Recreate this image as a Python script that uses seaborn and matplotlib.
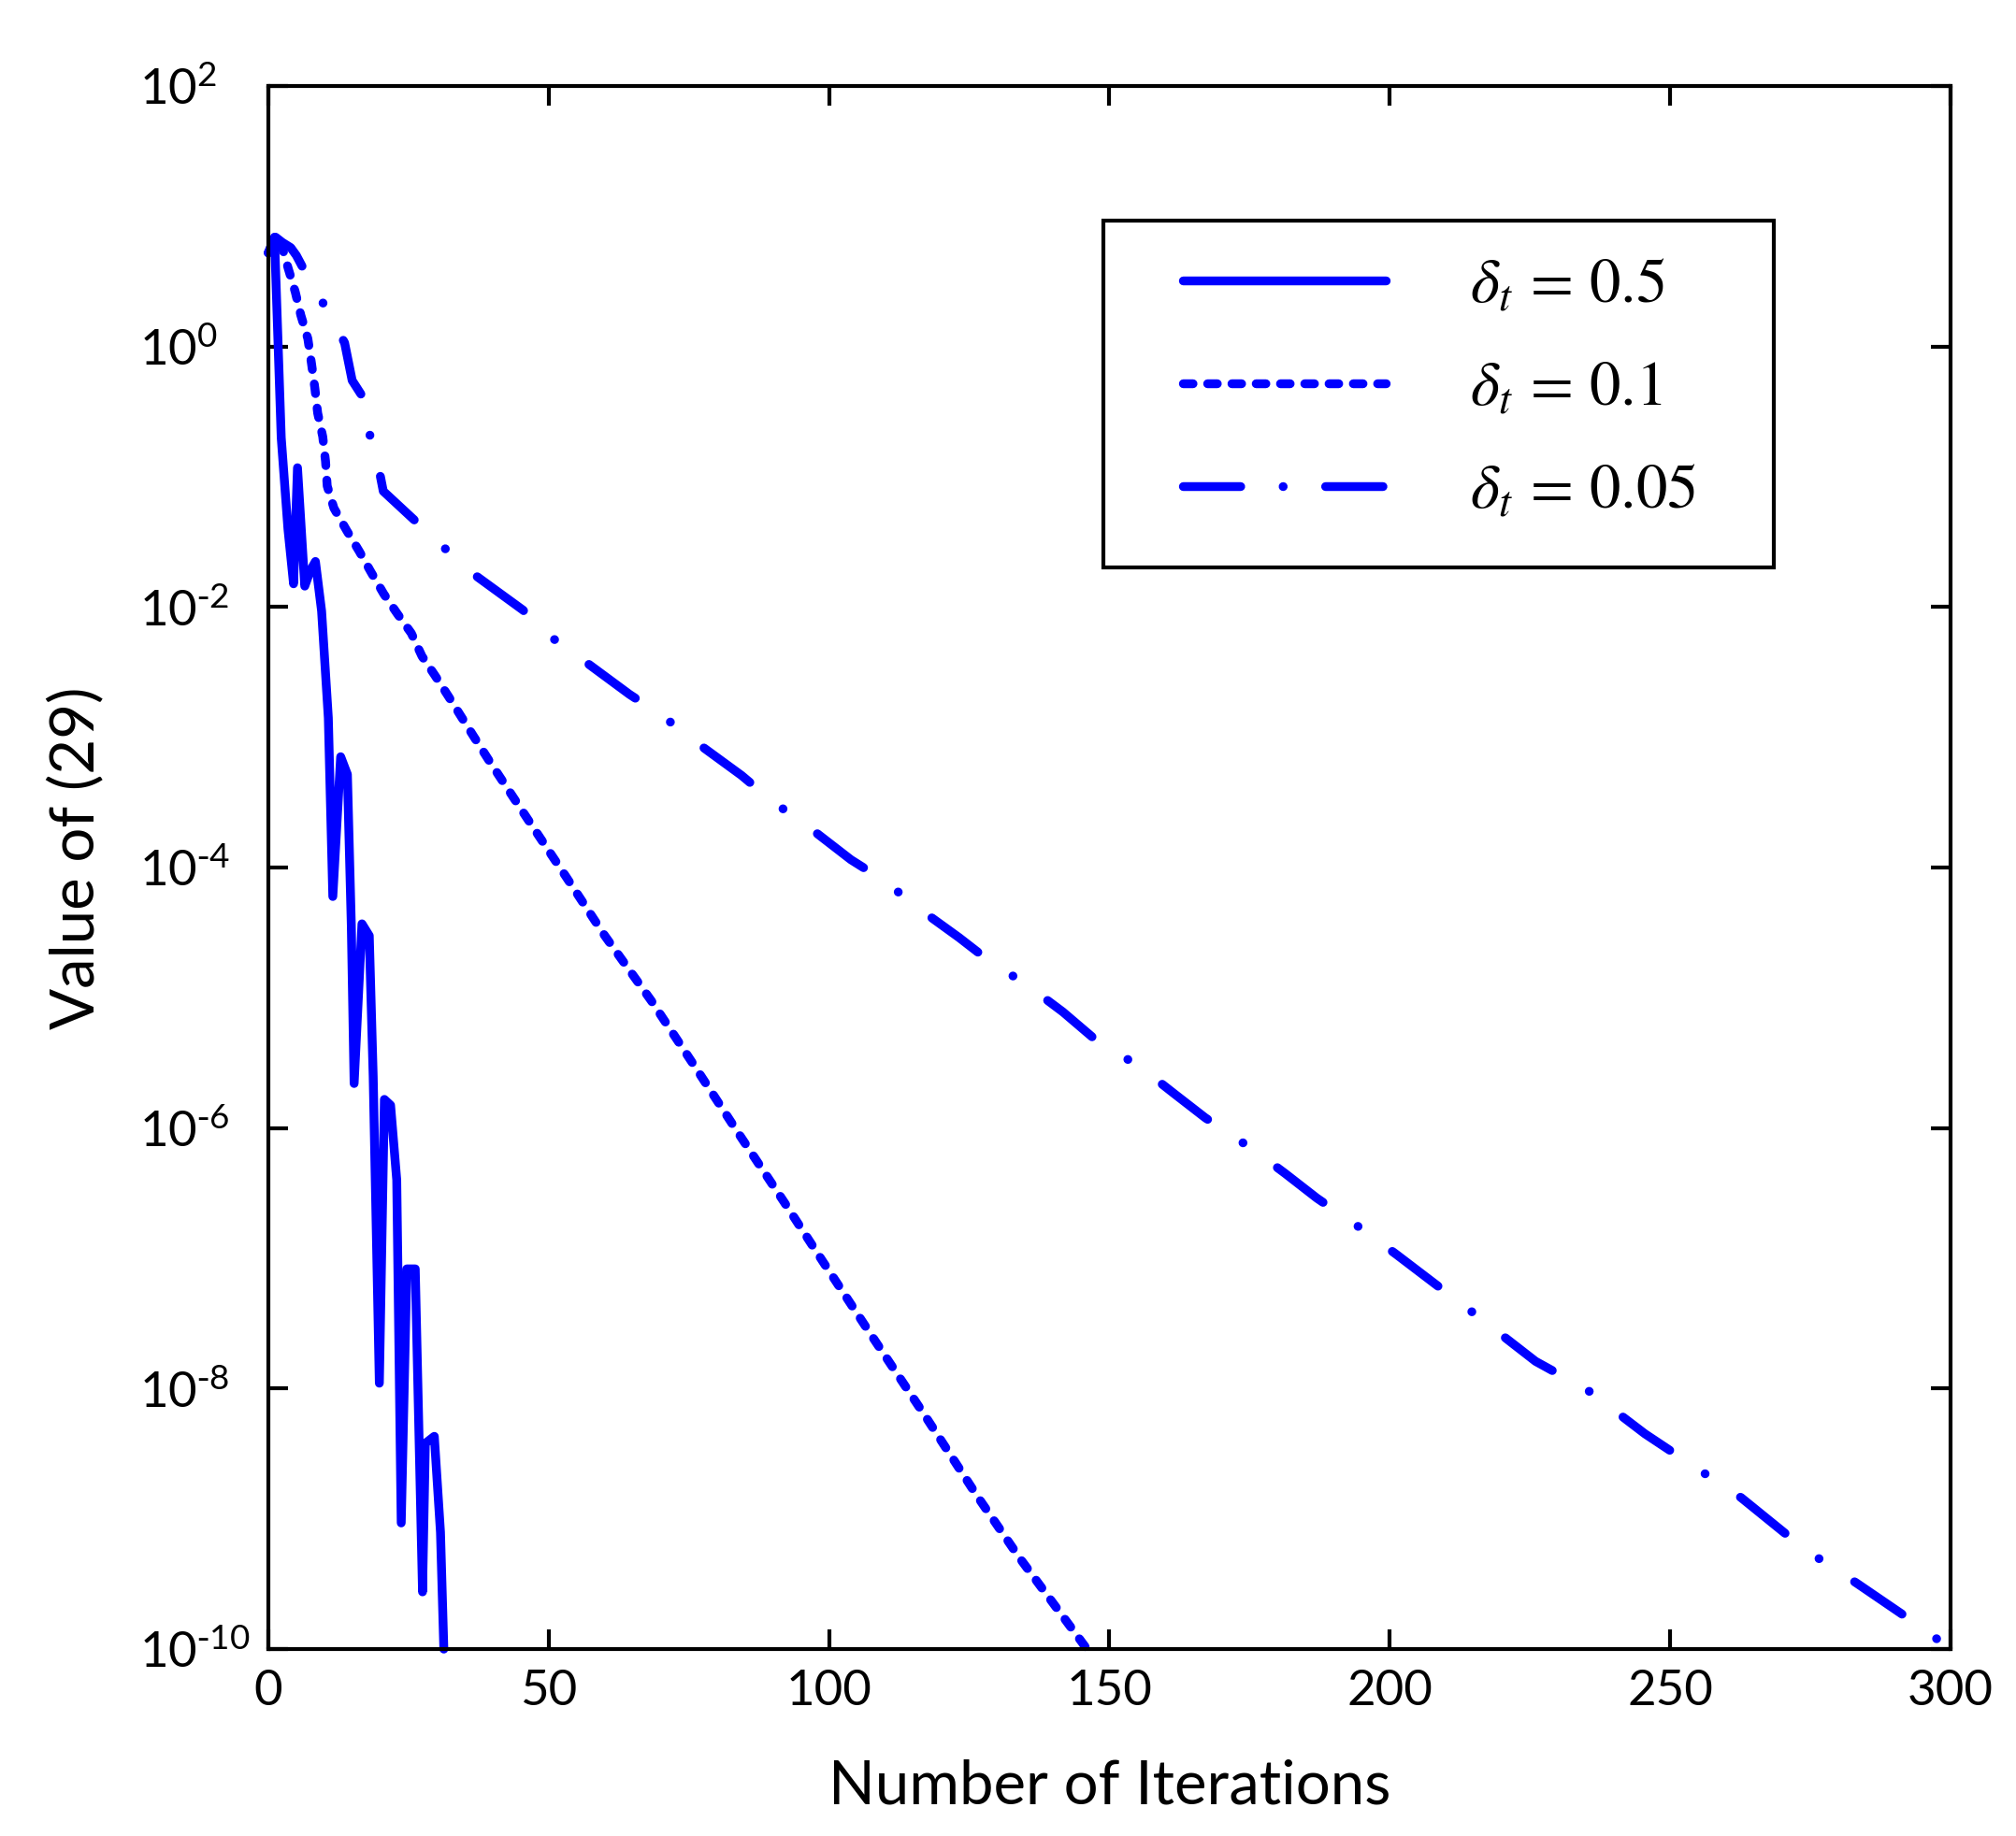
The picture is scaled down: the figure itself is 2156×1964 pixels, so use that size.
import numpy as np
import matplotlib
matplotlib.use("Agg")
import matplotlib.pyplot as plt
import seaborn as sns
from matplotlib.patches import Rectangle
from matplotlib.ticker import FixedLocator, NullLocator, FuncFormatter

# ---------------- data ----------------
iters_a = [0, 1.1, 2.3, 3.5, 4.5, 5.2, 6.5, 7.5, 8.4, 9.5, 10.7, 11.5, 12.9, 14.1, 14.8,
           15.3, 16.7, 18.0, 18.7, 19.8, 20.7, 21.8, 22.9, 23.7, 24.7, 26.2, 27.5, 28.0,
           29.6, 30.7, 31.3]
value_a = [5.25, 6.92, 0.200, 0.0398, 0.0151, 0.1175, 0.0145, 0.0191, 0.0224, 9.33e-3,
           1.41e-3, 6.0e-5, 7.1e-4, 5.2e-4, 3.6e-5, 2.2e-6, 3.7e-5, 3.0e-5, 2.5e-6, 1.1e-8,
           1.66e-6, 1.5e-6, 4.0e-7, 9.3e-10, 8.3e-8, 8.3e-8, 2.75e-10, 3.8e-9, 4.3e-9,
           7.9e-10, 1.0e-10]

iters_b = [0, 1.3, 2.5, 3.55, 4.8, 5.8, 7.05, 7.7, 8.3, 8.8, 9.7, 10.2, 10.5, 11.7, 13.95,
           16.2, 18.3, 20.6, 23.0, 25.5, 27.4, 29.8, 32.2, 36.6, 39.4, 46.3, 53.1, 60.0,
           68.3, 76.0, 84.0, 92.0, 99.0, 108.0, 117.0, 126.4, 134.0, 140.0, 146.0]
value_b = [5.25, 6.92, 5.75, 3.98, 2.63, 1.74, 1.15, 0.741, 0.479, 0.309, 0.204, 0.132,
           0.0851, 0.0575, 0.0389, 0.0269, 0.0186, 0.0126, 8.9e-3, 6.3e-3, 4.2e-3, 2.95e-3,
           2.04e-3, 1.02e-3, 6.6e-4, 2.34e-4, 8.5e-5, 3.0e-5, 9.5e-6, 3.0e-6, 8.9e-7, 2.7e-7,
           9.3e-8, 2.4e-8, 6.3e-9, 1.5e-9, 5.0e-10, 2.24e-10, 1.0e-10]

iters_c = [0, 1.3, 2.5, 4.0, 5.0, 6.6, 10.2, 13.6, 14.95, 16.9, 18.2, 20.0, 20.5, 25.0,
           26.0, 31.5, 36.7, 45.4, 50.4, 56.2, 64.4, 70.4, 76.1, 84.4, 90.0, 95.8, 103.9,
           109.9, 115.6, 123.2, 127.4, 135.9, 141.7, 147.2, 155.7, 161.4, 167.1, 175.5,
           181.3, 187.0, 195.2, 201.2, 207.8, 214.6, 226.0, 235.2, 245.5, 262.7, 274.1,
           283.3, 294.7, 300]
value_c = [5.25, 6.92, 6.31, 5.75, 5.01, 3.72, 2.0, 1.07, 0.55, 0.407, 0.2, 0.1, 0.0776,
           0.0513, 0.0468, 0.0282, 0.0178, 9.5e-3, 5.9e-3, 3.9e-3, 2.14e-3, 1.45e-3,
           9.3e-4, 5.1e-4, 3.2e-4, 2.14e-4, 1.15e-4, 7.9e-5, 5.0e-5, 2.9e-5, 2.1e-5,
           1.2e-5, 7.8e-6, 4.9e-6, 2.9e-6, 1.86e-6, 1.2e-6, 6.9e-7, 4.5e-7, 2.9e-7,
           1.66e-7, 1.07e-7, 6.5e-8, 3.9e-8, 1.62e-8, 9.8e-9, 4.5e-9, 1.45e-9, 5.8e-10,
           3.2e-10, 1.48e-10, 1.0e-10]

legend_labels = [r"$\delta_t\,=\,0.5$", r"$\delta_t\,=\,0.1$", r"$\delta_t\,=\,0.05$"]
x_ticks = [0, 50, 100, 150, 200, 250, 300]
y_ticks = [1e-10, 1e-8, 1e-6, 1e-4, 1e-2, 1e0, 1e2]
x_label = "Number of Iterations"
y_label = "Value of (29)"

# ---------------- style ----------------
sns.set_theme(style="ticks")
plt.rcParams["font.family"] = ["Lato", "DejaVu Sans"]
plt.rcParams["axes.unicode_minus"] = False

fig = plt.figure(figsize=(21.56, 19.64), dpi=100)
fig.patch.set_facecolor("white")
ax = fig.add_axes([0.1331, 0.1018, 0.8344, 0.8513])
ax.set_facecolor("white")

LW = 6.8
common = dict(color="#0000ff", linewidth=LW, estimator=None, sort=False, ax=ax,
              solid_capstyle="round", dash_capstyle="round",
              solid_joinstyle="round", dash_joinstyle="round", clip_on=False)
sns.lineplot(x=iters_a, y=value_a, linestyle="-", **common)
sns.lineplot(x=iters_b, y=value_b, linestyle=(0, (1.1, 1.65)), **common)
sns.lineplot(x=iters_c, y=value_c, linestyle=(0, (6.5, 4.8, 0.01, 4.8)), **common)

ax.set_yscale("log")
ax.set_xlim(0, 300)
ax.set_ylim(1e-10, 1e2)
ax.xaxis.set_major_locator(FixedLocator(x_ticks))
ax.xaxis.set_minor_locator(NullLocator())
ax.yaxis.set_major_locator(FixedLocator(y_ticks))
ax.yaxis.set_minor_locator(NullLocator())


def sci_label(v, pos):
    e = int(round(np.log10(v)))
    s = str(e).replace("-", r"\text{-}")
    return r"$\mathregular{10^{%s}}$" % s


ax.yaxis.set_major_formatter(FuncFormatter(sci_label))

ax.tick_params(axis="both", which="major", direction="in", length=15, width=3,
               top=True, right=True, labelsize=38, color="black", labelcolor="black")
ax.tick_params(axis="x", pad=16)
ax.tick_params(axis="y", pad=99)
for lab in ax.get_yticklabels():
    lab.set_horizontalalignment("left")

for s in ax.spines.values():
    s.set_linewidth(3)
    s.set_color("black")
    s.set_zorder(6)

ax.set_xlabel(x_label, fontsize=47, va="baseline", ha="center", color="black")
ax.xaxis.set_label_coords(0.5, -0.0987)
ax.set_ylabel(y_label, fontsize=47, va="baseline", ha="center", color="black")
ax.yaxis.set_label_coords(-0.104, 0.506)

# legend frame
frame = Rectangle((0.4964, 0.692), 0.8949 - 0.4964, 0.9139 - 0.692, transform=ax.transAxes,
                  facecolor="white", edgecolor="black", linewidth=3, zorder=4, clip_on=False)
ax.add_patch(frame)

lines = ax.get_lines()[:3]
leg = ax.legend(handles=lines, labels=legend_labels, loc="center",
                bbox_to_anchor=(0.6963, 0.807), frameon=False, fontsize=48,
                handlelength=3.25, handletextpad=1.35, labelspacing=0.72,
                borderpad=0.0, borderaxespad=0.0)
leg.set_zorder(5)
for t in leg.get_texts():
    t.set_math_fontfamily("stix")
    t.set_color("black")

fig.savefig("out.png", dpi=100, facecolor="white")
